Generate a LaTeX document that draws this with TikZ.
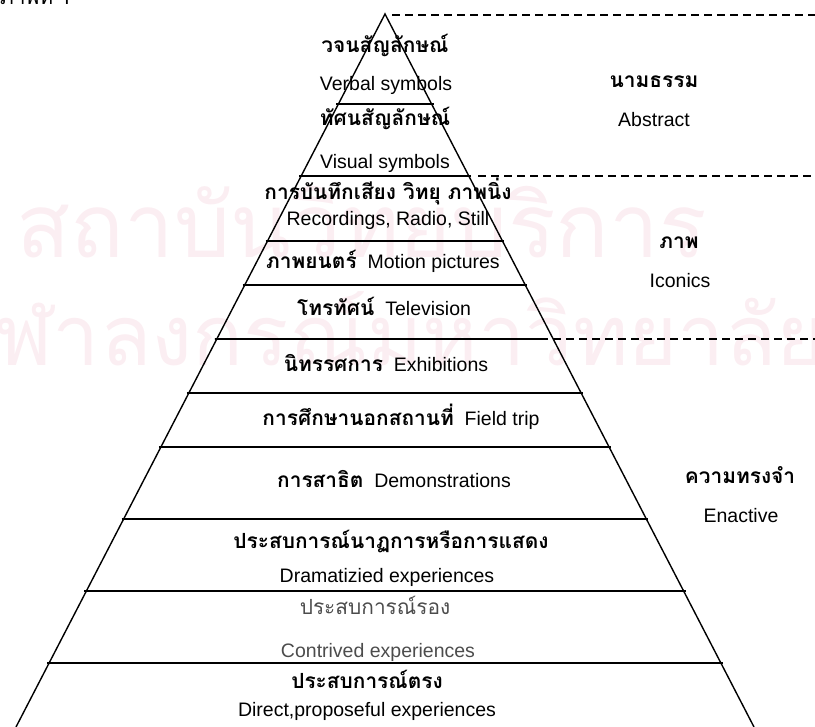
\documentclass[tikz,border=0pt]{standalone}
\usepackage{fontspec}
\setmainfont{Liberation Sans}
\newfontfamily\thaifont[Script=Thai,Scale=1.07]{Loma}
\newfontfamily\thaiwm[Script=Thai]{Loma}
\usetikzlibrary{calc}
\newcommand{\thb}[1]{{\thaifont\bfseries #1}}
\newcommand{\thr}[1]{{\thaifont #1}}
\begin{document}
\begin{tikzpicture}[x=1pt,y=-1pt,
  edge/.style={line width=1.4pt},
  hline/.style={line width=1.8pt, shorten <=-2pt, shorten >=-2pt},
  dline/.style={line width=1.6pt, dash pattern=on 8pt off 5pt},
  lbl/.style={anchor=base, inner sep=0pt, font=\fontsize{19.5}{22}\selectfont},
  grey/.style={lbl, text=black!70},
  wm/.style={inner sep=0pt, text={rgb,255:red,251;green,238;blue,242}}]
\useasboundingbox (0,0) rectangle (815,727);
% faint watermark of the scan
\node[wm] (wm1) at (362,222) {\resizebox{690pt}{!}{\thaiwm สถาบันวิทยบริการ}};
\node[wm] (wm2) at (386,340) {\resizebox{880pt}{!}{\thaiwm จุฬาลงกรณ์มหาวิทยาลัย}};
% cut caption at the top
\node[lbl, anchor=base west] (cap) at (0,5) {\thr{ภาพที่ 1}};
% pyramid
\coordinate (A) at (385,14);
\coordinate (L) at (16,727);
\coordinate (R) at (754,727);
\draw[edge] (L) -- (A) -- (R);
\foreach \i/\t in {1/0.1262,2/0.2272,3/0.3184,4/0.3801,6/0.5316,7/0.6073,8/0.7083,9/0.8093,10/0.9102}{
  \coordinate (l\i) at ($(A)!\t!(L)$);
  \coordinate (r\i) at ($(A)!\t!(R)$);
  \draw[hline] (l\i) -- (r\i);
}
\coordinate (l5) at ($(A)!0.4558!(L)$);
\coordinate (m5) at (540,339);
\coordinate (e5) at (815,339);
\draw[hline] (l5) -- (m5);
\draw[dline] (m5) -- (e5);
% dashed separators
\coordinate (d0) at (392,15);
\coordinate (e0) at (815,15);
\coordinate (d2) at (478,176);
\coordinate (e2) at (815,176);
\draw[dline] (d0) -- (e0);
\draw[dline] (d2) -- (e2);
% pyramid labels
\node[lbl] (t1a) at (385,53) {\thb{วจนสัญลักษณ์}};
\node[lbl] (t1b) at (386,91) {Verbal symbols};
\node[lbl] (t2a) at (385,126) {\thb{ทัศนสัญลักษณ์}};
\node[lbl] (t2b) at (385,169) {Visual symbols};
\node[lbl] (t3a) at (388,200) {\thb{การบันทึกเสียง วิทยุ ภาพนิ่ง}};
\node[lbl] (t3b) at (388,226) {Recordings, Radio, Still};
\node[lbl] (t4) at (383,269) {\thb{ภาพยนตร์}\ \ Motion pictures};
\node[lbl] (t5) at (384,316) {\thb{โทรทัศน์}\ \ Television};
\node[lbl] (t6) at (386,372) {\thb{นิทรรศการ}\ \ Exhibitions};
\node[lbl] (t7) at (401,426) {\thb{การศึกษานอกสถานที่}\ \ Field trip};
\node[lbl] (t8) at (394,488) {\thb{การสาธิต}\ \ Demonstrations};
\node[lbl] (t9a) at (391,548) {\thb{ประสบการณ์นาฏการหรือการแสดง}};
\node[lbl] (t9b) at (387,583) {Dramatizied experiences};
\node[grey] (t10a) at (375,614) {\thr{ประสบการณ์รอง}};
\node[grey] (t10b) at (378,657) {Contrived experiences};
\node[lbl] (t11a) at (367,688) {\thb{ประสบการณ์ตรง}};
\node[lbl] (t11b) at (367,716) {Direct,proposeful experiences};
% side labels
\node[lbl] (s1a) at (654,88) {\thb{นามธรรม}};
\node[lbl] (s1b) at (654,127) {Abstract};
\node[lbl] (s2a) at (679,249) {\thb{ภาพ}};
\node[lbl] (s2b) at (680,288) {Iconics};
\node[lbl] (s3a) at (740,484) {\thb{ความทรงจำ}};
\node[lbl] (s3b) at (741,523) {Enactive};
\end{tikzpicture}
\end{document}
